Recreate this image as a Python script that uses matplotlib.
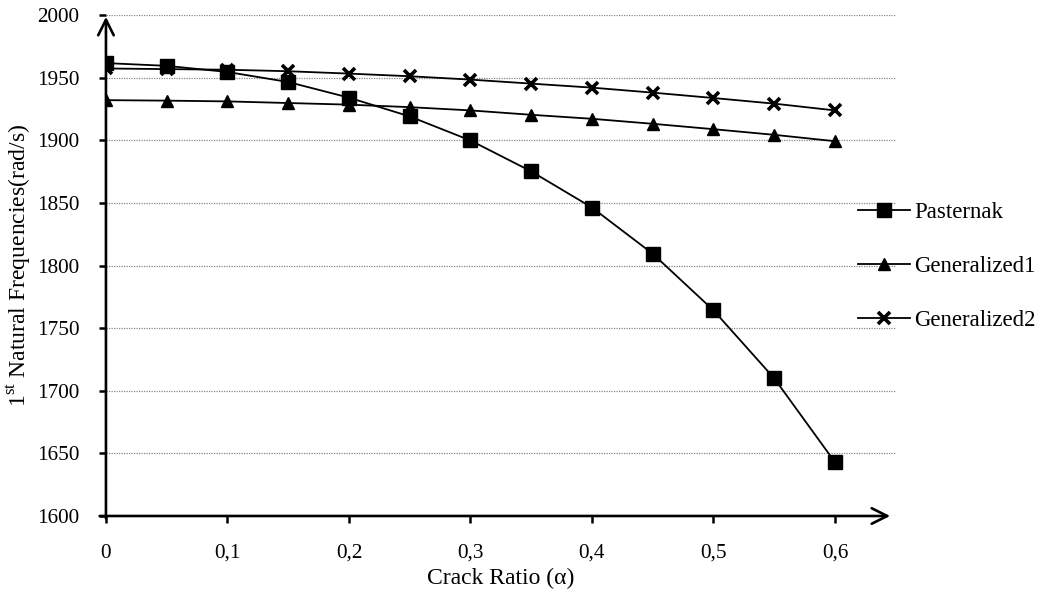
import matplotlib.pyplot as plt

plt.rcParams['font.family'] = 'Liberation Serif'
plt.rcParams['mathtext.fontset'] = 'custom'
plt.rcParams['mathtext.rm'] = 'Liberation Serif'

# crack ratio and first natural frequency (rad/s) for each foundation model
crack_ratio = [0, 0.05, 0.1, 0.15, 0.2, 0.25, 0.3, 0.35, 0.4, 0.45, 0.5, 0.55, 0.6]
pasternak = [1961.8, 1959.6, 1954.7, 1946.7, 1934.2, 1919.2, 1900.0,
             1875.3, 1846.4, 1809.5, 1764.3, 1710.0, 1643.0]
generalized1 = [1932.2, 1931.8, 1931.2, 1929.9, 1928.6, 1926.6, 1924.0,
                1920.5, 1917.3, 1913.3, 1909.0, 1904.5, 1899.4]
generalized2 = [1957.5, 1957.0, 1956.5, 1955.3, 1953.4, 1951.3, 1948.6,
                1945.4, 1942.2, 1938.2, 1933.9, 1929.4, 1924.0]

x_ticks = [0, 0.1, 0.2, 0.3, 0.4, 0.5, 0.6]
x_tick_labels = ['0', '0,1', '0,2', '0,3', '0,4', '0,5', '0,6']
y_ticks = [1600, 1650, 1700, 1750, 1800, 1850, 1900, 1950, 2000]

fig = plt.figure(figsize=(10.47, 5.92), dpi=100)
ax = fig.add_axes([0.1012, 0.1284, 0.7543, 0.8458])

ax.plot(crack_ratio, pasternak, color='black', lw=1.3, marker='s', ms=10,
        label='Pasternak', zorder=3)
ax.plot(crack_ratio, generalized1, color='black', lw=1.3, marker='^', ms=9,
        label='Generalized1', zorder=3)
ax.plot(crack_ratio, generalized2, color='black', lw=1.3, marker='x', ms=9,
        mew=2.6, label='Generalized2', zorder=3)

ax.set_xlim(0, 0.65)
ax.set_ylim(1600, 2000)
ax.set_xticks(x_ticks)
ax.set_xticklabels(x_tick_labels)
ax.set_yticks(y_ticks)
ax.tick_params(axis='both', labelsize=15.3, direction='out', length=5,
               width=1.8, color='black')
ax.tick_params(axis='x', pad=15)
ax.tick_params(axis='y', pad=14)

# dotted horizontal gridlines only
ax.yaxis.grid(True, linestyle=(0, (1, 1)), color='#888888', lw=0.9)
ax.set_axisbelow(True)

for s in ax.spines.values():
    s.set_visible(False)

# axis lines with open arrowheads
ax.annotate('', xy=(0.993, 0), xytext=(-0.008, 0), xycoords='axes fraction',
            arrowprops=dict(arrowstyle='->', lw=1.9, color='black',
                            mutation_scale=28, shrinkA=0, shrinkB=0),
            annotation_clip=False, zorder=4)
ax.annotate('', xy=(0, 0.997), xytext=(0, -0.005), xycoords='axes fraction',
            arrowprops=dict(arrowstyle='->', lw=1.9, color='black',
                            mutation_scale=28, shrinkA=0, shrinkB=0),
            annotation_clip=False, zorder=4)

ax.set_xlabel('Crack Ratio (α)', fontsize=17, labelpad=0)
ax.xaxis.set_label_coords(0.5, -0.104)
ax.set_ylabel(r'1$^{\mathrm{st}}$ Natural Frequencies(rad/s)', fontsize=17)
ax.yaxis.set_label_coords(-0.093, 0.5)

fig.legend(loc='upper left', bbox_to_anchor=(0.811, 0.675), frameon=False,
           fontsize=16.5, handlelength=2.25, handletextpad=0.2,
           labelspacing=1.45, borderaxespad=0)

fig.savefig('out.png', dpi=100)
